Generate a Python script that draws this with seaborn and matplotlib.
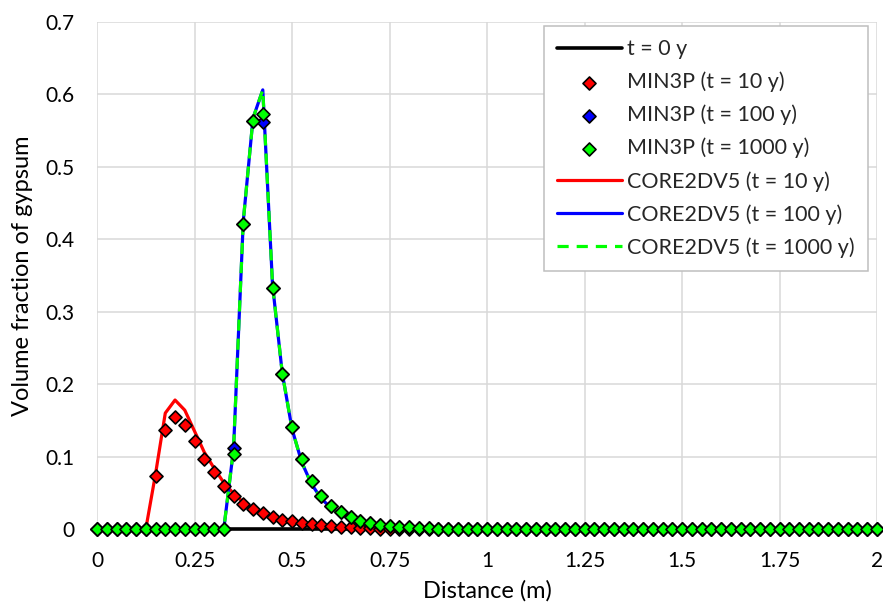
import numpy as np
import matplotlib
matplotlib.use("Agg")
import matplotlib.pyplot as plt
import seaborn as sns

# distance grid (m), one node every 0.025 m
distance = [round(i * 0.025, 3) for i in range(81)]

initial = [0.0] * 81

min3p_10 = [0.0, 0.0, 0.0, 0.0, 0.0, 0.0, 0.073, 0.136, 0.154, 0.144,
            0.121, 0.097, 0.078, 0.060, 0.046, 0.035, 0.028, 0.022, 0.017, 0.013,
            0.011, 0.008, 0.0065, 0.005, 0.004, 0.003, 0.0022, 0.0015, 0.001, 0.0007,
            0.0004] + [0.0] * 50

min3p_100 = [0.0] * 14 + [0.112, 0.421, 0.563, 0.561, 0.333, 0.214, 0.141, 0.096,
             0.066, 0.046, 0.032, 0.023, 0.017, 0.0115, 0.008, 0.006, 0.004, 0.003,
             0.0024, 0.0016, 0.001, 0.0007, 0.0004] + [0.0] * 44

min3p_1000 = [0.0] * 14 + [0.103, 0.421, 0.563, 0.573, 0.333, 0.214, 0.141, 0.096,
              0.066, 0.046, 0.032, 0.023, 0.017, 0.0115, 0.008, 0.006, 0.004, 0.003,
              0.0024, 0.0016, 0.001, 0.0007, 0.0004] + [0.0] * 44

core_10 = [0.0, 0.0, 0.0, 0.0, 0.0, 0.0, 0.076, 0.160, 0.178, 0.164,
           0.135, 0.106, 0.084, 0.064, 0.049, 0.037, 0.028, 0.021, 0.016, 0.012,
           0.009, 0.007, 0.005, 0.004, 0.003, 0.002, 0.0015, 0.001, 0.0007, 0.0004,
           0.0002] + [0.0] * 50

core_100 = [0.0] * 14 + [0.110, 0.425, 0.567, 0.606, 0.337, 0.215, 0.138, 0.092,
            0.062, 0.042, 0.029, 0.020, 0.014, 0.0095, 0.0065, 0.0045, 0.003, 0.002,
            0.0014, 0.001, 0.0006, 0.0003] + [0.0] * 45

core_1000 = [0.0] * 14 + [0.110, 0.425, 0.567, 0.606, 0.337, 0.215, 0.138, 0.092,
             0.062, 0.042, 0.029, 0.020, 0.014, 0.0095, 0.0065, 0.0045, 0.003, 0.002,
             0.0014, 0.001, 0.0006, 0.0003] + [0.0] * 45

x_ticks = [0, 0.25, 0.5, 0.75, 1, 1.25, 1.5, 1.75, 2]
x_labels = ["0", "0.25", "0.5", "0.75", "1", "1.25", "1.5", "1.75", "2"]
y_ticks = [0, 0.1, 0.2, 0.3, 0.4, 0.5, 0.6, 0.7]
y_labels = ["0", "0.1", "0.2", "0.3", "0.4", "0.5", "0.6", "0.7"]

sns.set_theme(style="whitegrid")
plt.rcParams["font.family"] = ["Lato", "DejaVu Sans"]

fig = plt.figure(figsize=(8.83, 6.13), dpi=100)
ax = fig.add_axes([0.1099, 0.137, 0.8833, 0.8275])

# lines first, markers on top
sns.lineplot(x=distance, y=initial, ax=ax, color="black", linewidth=2.6,
             label="t = 0 y", zorder=2, clip_on=False)
sns.scatterplot(x=distance, y=min3p_10, ax=ax, marker="D", s=44, color="#ff0000",
                edgecolor="black", linewidth=1.2, label="MIN3P (t = 10 y)", zorder=5, clip_on=False)
sns.scatterplot(x=distance, y=min3p_100, ax=ax, marker="D", s=44, color="#0000ff",
                edgecolor="black", linewidth=1.2, label="MIN3P (t = 100 y)", zorder=6, clip_on=False)
sns.scatterplot(x=distance, y=min3p_1000, ax=ax, marker="D", s=44, color="#00ff00",
                edgecolor="black", linewidth=1.2, label="MIN3P (t = 1000 y)", zorder=7, clip_on=False)
sns.lineplot(x=distance, y=core_10, ax=ax, color="#ff0000", linewidth=2.3,
             label="CORE2DV5 (t = 10 y)", zorder=3)
sns.lineplot(x=distance, y=core_100, ax=ax, color="#0000ff", linewidth=2.3,
             label="CORE2DV5 (t = 100 y)", zorder=3)
sns.lineplot(x=distance, y=core_1000, ax=ax, color="#00ff00", linewidth=2.3,
             linestyle=(0, (3.5, 2.5)), label="CORE2DV5 (t = 1000 y)", zorder=4)

ax.set_xlim(0, 2)
ax.set_ylim(0, 0.7)
ax.set_xticks(x_ticks)
ax.set_xticklabels(x_labels)
ax.set_yticks(y_ticks)
ax.set_yticklabels(y_labels)
ax.tick_params(length=0, labelsize=15, colors="black", pad=16)
ax.grid(True, color="#d9d9d9", linewidth=1.1)
for s in ax.spines.values():
    s.set_visible(False)

ax.set_xlabel("Distance (m)", fontsize=17, color="black")
ax.set_ylabel("Volume fraction of gypsum", fontsize=17, color="black")
ax.xaxis.set_label_coords(0.5, -0.1)
ax.yaxis.set_label_coords(-0.082, 0.5)

handles, labels = ax.get_legend_handles_labels()
order = ["t = 0 y", "MIN3P (t = 10 y)", "MIN3P (t = 100 y)", "MIN3P (t = 1000 y)",
         "CORE2DV5 (t = 10 y)", "CORE2DV5 (t = 100 y)", "CORE2DV5 (t = 1000 y)"]
hmap = dict(zip(labels, handles))
leg = ax.legend([hmap[l] for l in order], order, loc="upper right",
                bbox_to_anchor=(0.988, 0.991), borderaxespad=0, fontsize=15.5,
                frameon=True, fancybox=False, framealpha=1, edgecolor="#bfbfbf",
                handlelength=3.0, handletextpad=0.25, labelspacing=0.58,
                borderpad=0.6, scatterpoints=1)
leg.get_frame().set_linewidth(1.1)
leg.set_zorder(10)

fig.savefig("out.png", dpi=100)
